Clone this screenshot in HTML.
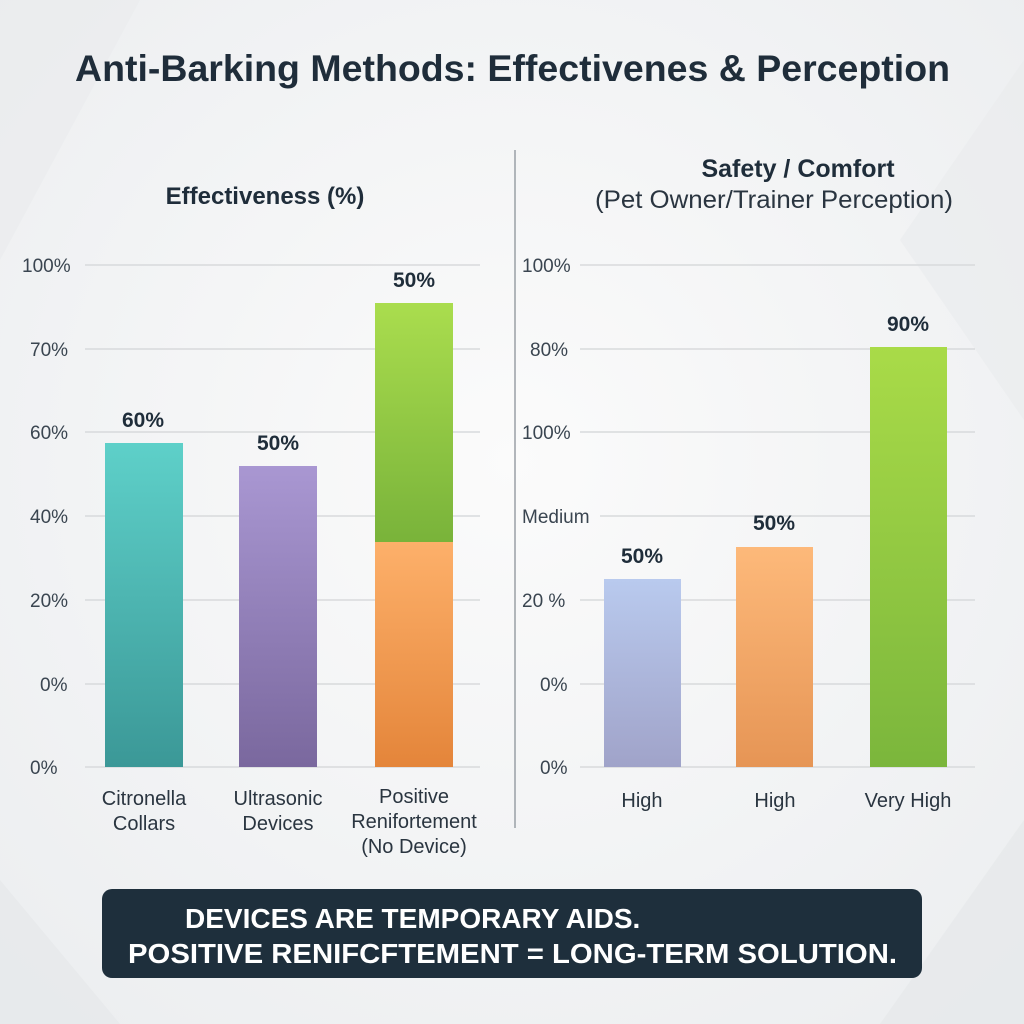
<!DOCTYPE html>
<html><head><meta charset="utf-8"><style>
html,body{margin:0;padding:0;background:#f3f4f5;}
svg{display:block;font-family:"Liberation Sans",Arial,sans-serif;}
</style></head><body>
<svg width="1024" height="1024" viewBox="0 0 1024 1024" xmlns="http://www.w3.org/2000/svg">
<defs>
<radialGradient id="bg" cx="50%" cy="45%" r="70%"><stop offset="0" stop-color="#fbfbfb"/><stop offset="1" stop-color="#eceef0"/></radialGradient>
<linearGradient id="teal" x1="0" y1="0" x2="0" y2="1"><stop offset="0" stop-color="#5ed0c9"/><stop offset="1" stop-color="#3b9897"/></linearGradient>
<linearGradient id="purp" x1="0" y1="0" x2="0" y2="1"><stop offset="0" stop-color="#a997d2"/><stop offset="1" stop-color="#7a689e"/></linearGradient>
<linearGradient id="grn" x1="0" y1="0" x2="0" y2="1"><stop offset="0" stop-color="#aadd4e"/><stop offset="1" stop-color="#79b33a"/></linearGradient>
<linearGradient id="org" x1="0" y1="0" x2="0" y2="1"><stop offset="0" stop-color="#fdb06a"/><stop offset="1" stop-color="#e4853a"/></linearGradient>
<linearGradient id="blu" x1="0" y1="0" x2="0" y2="1"><stop offset="0" stop-color="#b9caee"/><stop offset="1" stop-color="#a0a3c9"/></linearGradient>
<linearGradient id="org2" x1="0" y1="0" x2="0" y2="1"><stop offset="0" stop-color="#fdb97a"/><stop offset="1" stop-color="#e69555"/></linearGradient>
<linearGradient id="grn2" x1="0" y1="0" x2="0" y2="1"><stop offset="0" stop-color="#a9db48"/><stop offset="1" stop-color="#7bb63c"/></linearGradient>
</defs>
<rect width="1024" height="1024" fill="url(#bg)"/>
<polygon points="0,0 140,0 0,260" fill="#e9ebed" opacity="0.6"/>
<polygon points="1024,60 1024,420 900,240" fill="#e9ebed" opacity="0.6"/>
<polygon points="0,880 120,1024 0,1024" fill="#e6e8ea" opacity="0.7"/>
<polygon points="1024,820 1024,1024 880,1024" fill="#e6e8ea" opacity="0.7"/>

<text x="75" y="81" font-size="37" font-weight="bold" fill="#1f2d3a" textLength="875" lengthAdjust="spacingAndGlyphs">Anti-Barking Methods: Effectivenes &amp; Perception</text>

<!-- left panel -->
<text x="265" y="204" text-anchor="middle" font-size="24" font-weight="bold" fill="#1f2d3a">Effectiveness (%)</text>
<g stroke="#d8dadc" stroke-width="1.5">
<line x1="85" y1="265" x2="480" y2="265"/><line x1="85" y1="349" x2="480" y2="349"/><line x1="85" y1="432" x2="480" y2="432"/><line x1="85" y1="516" x2="480" y2="516"/><line x1="85" y1="600" x2="480" y2="600"/><line x1="85" y1="684" x2="480" y2="684"/><line x1="85" y1="767" x2="480" y2="767"/>
</g>
<g font-size="19" fill="#3a4550">
<text x="22" y="272">100%</text><text x="30" y="356">70%</text><text x="30" y="439">60%</text><text x="30" y="523">40%</text><text x="30" y="607">20%</text><text x="40" y="691">0%</text><text x="30" y="774">0%</text>
</g>
<rect x="105" y="443" width="78" height="324" fill="url(#teal)"/>
<rect x="239" y="466" width="78" height="301" fill="url(#purp)"/>
<rect x="375" y="303" width="78" height="239" fill="url(#grn)"/>
<rect x="375" y="542" width="78" height="225" fill="url(#org)"/>
<g font-size="21" font-weight="bold" fill="#1f2d3a" text-anchor="middle">
<text x="143" y="427">60%</text><text x="278" y="450">50%</text><text x="414" y="287">50%</text>
</g>
<g font-size="20" fill="#2a3540" text-anchor="middle">
<text x="144" y="805">Citronella</text><text x="144" y="830">Collars</text>
<text x="278" y="805">Ultrasonic</text><text x="278" y="830">Devices</text>
<text x="414" y="803">Positive</text><text x="414" y="828">Renifortement</text><text x="414" y="853">(No Device)</text>
</g>

<line x1="515" y1="150" x2="515" y2="828" stroke="#9aa0a6" stroke-width="1.5"/>

<!-- right panel -->
<text x="798" y="177" text-anchor="middle" font-size="25" font-weight="bold" fill="#1f2d3a">Safety / Comfort</text>
<text x="774" y="208" text-anchor="middle" font-size="25" fill="#2a3540" textLength="358" lengthAdjust="spacingAndGlyphs">(Pet Owner/Trainer Perception)</text>
<g stroke="#d8dadc" stroke-width="1.5">
<line x1="580" y1="265" x2="975" y2="265"/><line x1="580" y1="349" x2="975" y2="349"/><line x1="580" y1="432" x2="975" y2="432"/><line x1="600" y1="516" x2="975" y2="516"/><line x1="580" y1="600" x2="975" y2="600"/><line x1="580" y1="684" x2="975" y2="684"/><line x1="580" y1="767" x2="975" y2="767"/>
</g>
<g font-size="19" fill="#3a4550">
<text x="522" y="272">100%</text><text x="530" y="356">80%</text><text x="522" y="439">100%</text><text x="522" y="523">Medium</text><text x="522" y="607">20 %</text><text x="540" y="691">0%</text><text x="540" y="774">0%</text>
</g>
<rect x="604" y="579" width="77" height="188" fill="url(#blu)"/>
<rect x="736" y="547" width="77" height="220" fill="url(#org2)"/>
<rect x="870" y="347" width="77" height="420" fill="url(#grn2)"/>
<g font-size="21" font-weight="bold" fill="#1f2d3a" text-anchor="middle">
<text x="642" y="563">50%</text><text x="774" y="530">50%</text><text x="908" y="331">90%</text>
</g>
<g font-size="20" fill="#2a3540" text-anchor="middle">
<text x="642" y="807">High</text><text x="775" y="807">High</text><text x="908" y="807">Very High</text>
</g>

<rect x="102" y="889" width="820" height="89" rx="10" fill="#1e2f3c"/>
<g font-size="28" font-weight="bold" fill="#ffffff">
<text x="185" y="928">DEVICES ARE TEMPORARY AIDS.</text>
<text x="128" y="963" textLength="769" lengthAdjust="spacingAndGlyphs">POSITIVE RENIFCFTEMENT = LONG-TERM SOLUTION.</text>
</g>
</svg>
</body></html>
